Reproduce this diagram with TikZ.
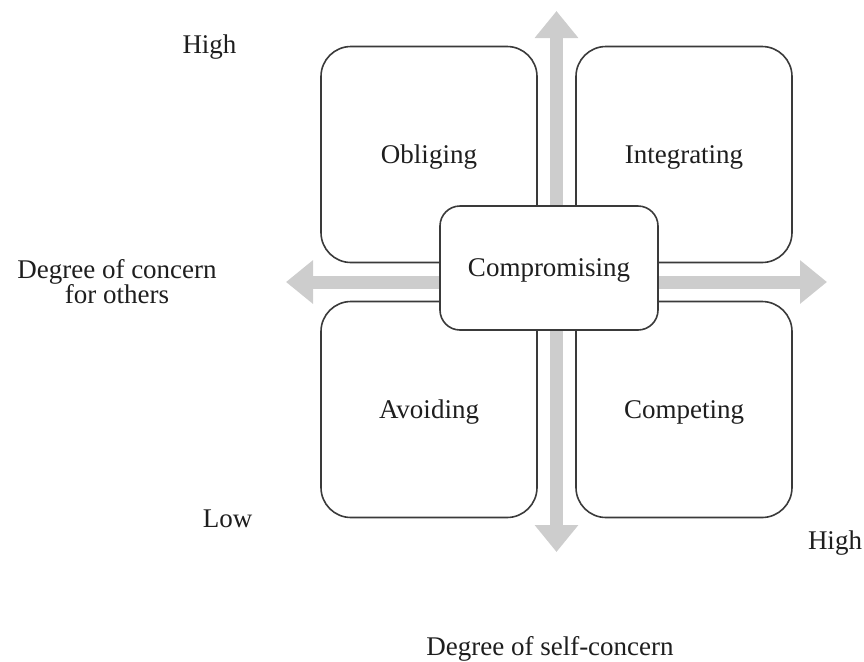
\documentclass[tikz,border=0pt]{standalone}
\usepackage{fontspec}
\setmainfont{Liberation Serif}
\usetikzlibrary{arrows.meta}

\begin{document}
\begin{tikzpicture}[x=.5pt,y=-.5pt,line join=round,
    riquadro/.style={draw=conflittoBordo,line width=.8pt,fill=white,
      rounded corners=15pt,minimum width=108pt,minimum height=108pt,
      text depth=0pt,text=conflittoTesto,font=\fontsize{13.5}{16}\selectfont},
    etichetta/.style={text=conflittoTesto,inner sep=0pt,
      font=\fontsize{13.5}{12.5}\selectfont},
    asse/.style={conflittoAsse,line width=6.5pt,
      {Triangle[length=13.5pt,width=21pt]}-{Triangle[length=13.5pt,width=21pt]}}]
  \definecolor{conflittoBordo}{HTML}{3A3A3A}
  \definecolor{conflittoAsse}{HTML}{CDCDCD}
  \definecolor{conflittoTesto}{HTML}{1E1E1E}
  \useasboundingbox (0,0) rectangle (864,661);

  % Assi grigi: sotto ai riquadri.
  \coordinate (assiSu) at (556.5,11);
  \coordinate (assiGiu) at (556.5,552);
  \coordinate (assiSx) at (286,282);
  \coordinate (assiDx) at (827,282);
  \draw[asse] (assiGiu) -- (assiSu);
  \draw[asse] (assiSx) -- (assiDx);

  % I quattro stili e quello centrale.
  \node[riquadro] (obliging) at (429,154.5) {Obliging};
  \node[riquadro] (integrating) at (684,154.5) {Integrating};
  \node[riquadro] (avoiding) at (429,409.5) {Avoiding};
  \node[riquadro] (competing) at (684,409.5) {Competing};
  \node[riquadro,rounded corners=10pt,minimum width=109pt,minimum height=62pt]
    (compromising) at (549,268) {Compromising};

  % Scritte sugli assi.
  \node[etichetta,anchor=base] (altoSx) at (209.5,53) {High};
  \node[etichetta,align=center] (altri) at (117,282) {Degree of concern\\for others};
  \node[etichetta,anchor=base] (basso) at (227.5,527) {Low};
  \node[etichetta,anchor=base] (altoDx) at (835,549) {High};
  \node[etichetta,anchor=base] (se) at (550,655) {Degree of self-concern};
\end{tikzpicture}
\end{document}
